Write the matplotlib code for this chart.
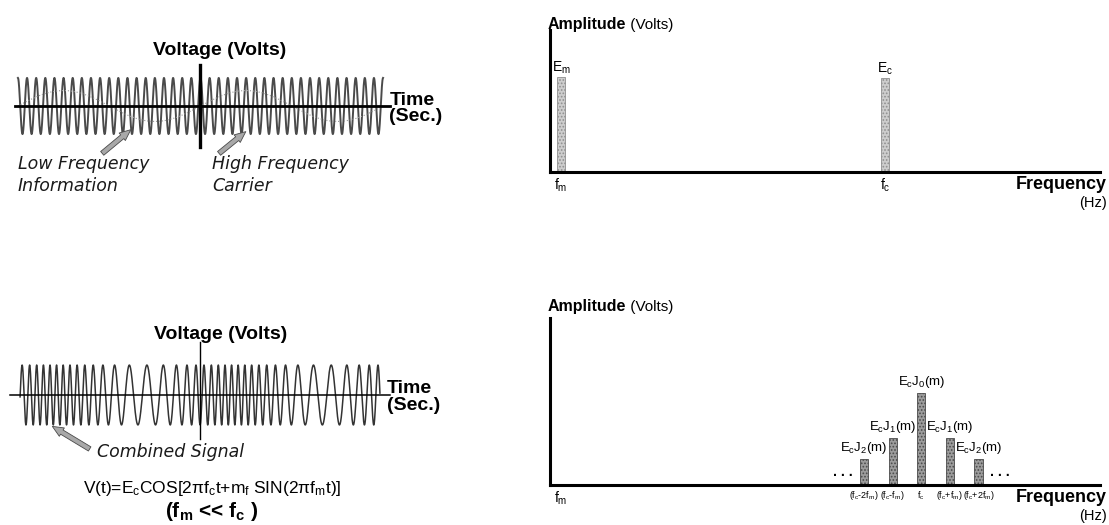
import numpy as np
import matplotlib
matplotlib.use('Agg')
import matplotlib.pyplot as plt

plt.rcParams['font.family'] = ['Liberation Sans', 'DejaVu Sans']
plt.rcParams['mathtext.fontset'] = 'custom'
plt.rcParams['mathtext.rm'] = 'Liberation Sans'
plt.rcParams['mathtext.it'] = 'Liberation Sans:italic'
plt.rcParams['mathtext.bf'] = 'Liberation Sans:bold'
plt.rcParams['mathtext.default'] = 'regular'
plt.rcParams['hatch.linewidth'] = 0.8

# --- data -------------------------------------------------------------
# time domain (t runs 0..1 across the drawn trace)
carrier_cycles = 40        # high frequency carrier, cycles across the trace
info_cycles = 2            # low frequency information
info_amp = 0.55
fm_carrier_cycles = 37.5   # combined (FM) signal
fm_mod_cycles = 2.0
fm_index = 8.75
fm_phase_t = 0.09

# frequency domain, separate signals (x in arbitrary frequency units 0..100)
sep_freqs = [2.0, 60.9]
sep_amps = [1.0, 0.99]
sep_labels = ['E$_m$', 'E$_c$']
sep_ticks = ['f$_m$', 'f$_c$']

# frequency domain, FM spectrum
fm_pos = 2.0
fc_pos = 67.5
side_step = 5.2
side_orders = [-2, -1, 0, 1, 2]
side_amps = [0.28, 0.51, 0.99, 0.51, 0.28]
side_labels = ['E$_c$J$_2$(m)', 'E$_c$J$_1$(m)', 'E$_c$J$_0$(m)', 'E$_c$J$_1$(m)', 'E$_c$J$_2$(m)']
side_ticks = ['(f$_c$-2f$_m$)', '(f$_c$-f$_m$)', 'f$_c$', '(f$_c$+f$_m$)', '(f$_c$+2f$_m$)']

W, H = 1109, 525


def box(x0, y0, x1, y1):
    return [x0 / W, 1 - y1 / H, (x1 - x0) / W, (y1 - y0) / H]


def cross_axes(ax, lw_h, lw_v):
    for s in ['top', 'right']:
        ax.spines[s].set_visible(False)
    ax.spines['left'].set_position(('data', 0.5))
    ax.spines['bottom'].set_position(('data', 0))
    ax.spines['bottom'].set_linewidth(lw_h)
    ax.spines['left'].set_linewidth(lw_v)
    ax.set_xticks([])
    ax.set_yticks([])
    ax.patch.set_alpha(0)


def spec_axes(ax):
    for s in ['top', 'right']:
        ax.spines[s].set_visible(False)
    ax.spines['left'].set_linewidth(2.2)
    ax.spines['bottom'].set_linewidth(2.2)
    ax.set_yticks([])
    ax.tick_params(axis='x', length=0, pad=3)
    ax.set_xlim(0, 100)
    ax.patch.set_alpha(0)


def amp_title(ax, dy):
    t = ax.annotate('Amplitude', xy=(0, 1), xycoords='axes fraction', xytext=(-2, dy),
                    textcoords='offset points', fontsize=11.5, fontweight='bold', va='baseline')
    ax.annotate(' (Volts)', xy=(1, 0), xycoords=t, fontsize=11, va='bottom')


def freq_label(ax):
    ax.annotate('Frequency', xy=(1, 0), xycoords='axes fraction', xytext=(5, -3),
                textcoords='offset points', ha='right', va='top', fontsize=13, fontweight='bold')
    ax.annotate('(Hz)', xy=(1, 0), xycoords='axes fraction', xytext=(5, -17),
                textcoords='offset points', ha='right', va='top', fontsize=10.5)


arrow_kw = dict(arrowstyle='simple,head_width=0.7,head_length=0.8,tail_width=0.35',
                fc='#a8a8a8', ec='#4a4a4a', lw=0.6)

fig = plt.figure(figsize=(W / 100, H / 100), dpi=100)

# --- top left: carrier + information ---------------------------------
ax1 = fig.add_axes(box(15, 65, 390, 147))
t = np.linspace(0, 1, 4000)
ax1.plot(t, np.cos(2 * np.pi * carrier_cycles * t), color='#4a4a4a', lw=1.4)
ax1.plot(t, info_amp * np.sin(2 * np.pi * info_cycles * t), color='#9a9a9a', lw=0.8, ls=':')
ax1.set_xlim(-0.008, 1.019)
ax1.set_ylim(-1.46, 1.46)
cross_axes(ax1, 2.0, 2.4)
ax1.text(0.552, 1.96, 'Voltage (Volts)', ha='center', va='center', fontsize=14, fontweight='bold')
ax1.text(1.017, -0.09, 'Time\n(Sec.)', ha='left', va='center', fontsize=14, fontweight='bold',
         linespacing=0.98)
ax1.annotate('', xy=(0.315, -0.78), xytext=(0.225, -1.75), arrowprops=arrow_kw, annotation_clip=False)
ax1.annotate('', xy=(0.63, -0.85), xytext=(0.545, -1.75), arrowprops=arrow_kw, annotation_clip=False)
ax1.text(0.0, -1.75, 'Low Frequency\nInformation', ha='left', va='top', fontsize=12.5,
         family='DejaVu Sans', style='italic', linespacing=1.25, color='#1a1a1a')
ax1.text(0.532, -1.75, 'High Frequency\nCarrier', ha='left', va='top', fontsize=12.5,
         family='DejaVu Sans', style='italic', linespacing=1.25, color='#1a1a1a')

# --- bottom left: combined FM signal ---------------------------------
ax3 = fig.add_axes(box(10, 342, 390, 439))
phase = 2 * np.pi * fm_carrier_cycles * t + fm_index * np.sin(2 * np.pi * fm_mod_cycles * (t - fm_phase_t))
ax3.plot(t, np.cos(phase), color='#333333', lw=1.1)
ax3.set_xlim(-0.028, 1.028)
ax3.set_ylim(-1.47, 1.77)
cross_axes(ax3, 1.1, 1.0)
ax3.text(0.558, 2.03, 'Voltage (Volts)', ha='center', va='center', fontsize=14, fontweight='bold')
ax3.text(1.02, -0.07, 'Time\n(Sec.)', ha='left', va='center', fontsize=14, fontweight='bold',
         linespacing=0.98)
ax3.annotate('', xy=(0.083, -1.0), xytext=(0.2, -1.85), arrowprops=arrow_kw, annotation_clip=False)
ax3.text(0.214, -1.9, 'Combined Signal', ha='left', va='center', fontsize=12.5,
         family='DejaVu Sans', style='italic', color='#1a1a1a')
ax3.text(0.533, -3.13, 'V(t)=E$_c$COS[2\u03c0f$_c$t+m$_f$ SIN(2\u03c0f$_m$t)]', ha='center',
         va='center', fontsize=12.5)
ax3.text(0.533, -3.9, '(f$_m$ << f$_c$ )', ha='center', va='center', fontsize=15, fontweight='bold')

# --- top right: separate spectra -------------------------------------
ax2 = fig.add_axes(box(550, 30, 1100, 172))
ax2.bar(sep_freqs, sep_amps, width=1.6, color='#cdcdcd', edgecolor='#8f8f8f', hatch='.....', lw=0.6)
for f, a, lab in zip(sep_freqs, sep_amps, sep_labels):
    ax2.annotate(lab, xy=(f, a), xytext=(0, 1), textcoords='offset points', ha='center',
                 va='bottom', fontsize=10)
ax2.set_ylim(0, 1.5)
spec_axes(ax2)
ax2.set_xticks(sep_freqs)
ax2.set_xticklabels(sep_ticks, fontsize=10)
amp_title(ax2, 1)
freq_label(ax2)

# --- bottom right: FM spectrum ---------------------------------------
ax4 = fig.add_axes(box(550, 318, 1100, 485))
side_pos = [fc_pos + k * side_step for k in side_orders]
ax4.bar(side_pos, side_amps, width=1.5, color='#9c9c9c', edgecolor='#4a4a4a', hatch='.....', lw=0.6)
for p, a, lab in zip(side_pos, side_amps, side_labels):
    ax4.annotate(lab, xy=(p, a), xytext=(0, 2), textcoords='offset points', ha='center',
                 va='bottom', fontsize=9.5)
ax4.text(side_pos[0] - side_step * 0.75, 0.14, '. . .', ha='center', va='center', fontsize=10,
         fontweight='bold')
ax4.text(side_pos[-1] + side_step * 0.75, 0.14, '. . .', ha='center', va='center', fontsize=10,
         fontweight='bold')
ax4.set_ylim(0, 1.8)
spec_axes(ax4)
ax4.set_xticks([fm_pos] + side_pos)
ax4.set_xticklabels(['f$_m$'] + side_ticks)
for i, lab in enumerate(ax4.get_xticklabels()):
    lab.set_fontsize(10 if i == 0 else 6.5)
amp_title(ax4, 5)
freq_label(ax4)

fig.savefig('out.png', dpi=100)
